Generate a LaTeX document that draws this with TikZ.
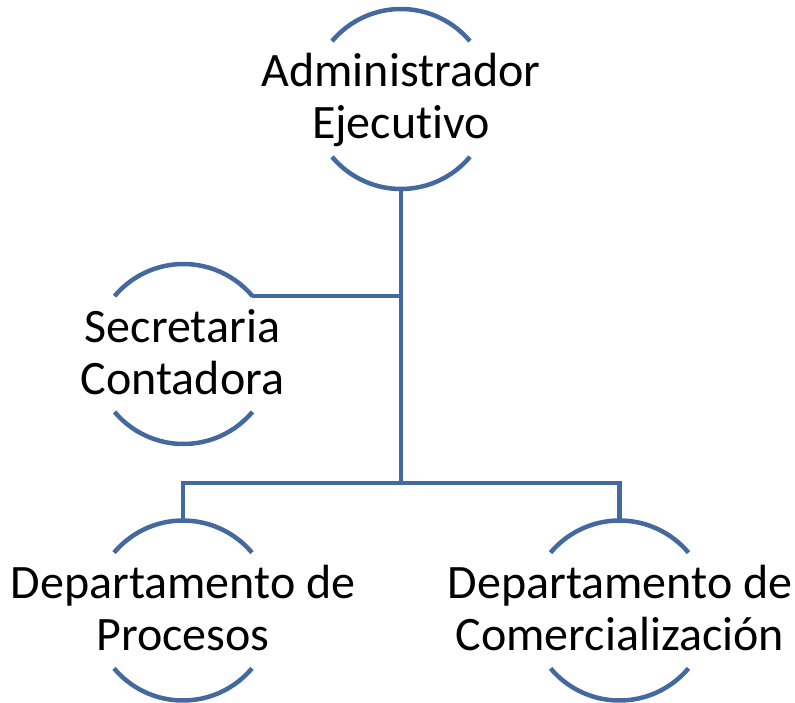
\documentclass[tikz,border=0pt]{standalone}
\usepackage{fontspec}
\setmainfont[Ligatures={NoCommon,NoRequired,NoContextual}]{Carlito}
\usetikzlibrary{calc}
\definecolor{linec}{RGB}{68,105,158}
\begin{document}
\begin{tikzpicture}[x=1pt,y=-1pt,
  conn/.style={draw=linec,line width=4.5pt},
  ring/.style={draw=linec,line width=4.5pt},
  lbl/.style={align=center,font=\fontsize{48}{52}\selectfont,inner sep=0pt,anchor=base}]
\useasboundingbox (0,0) rectangle (795,702);
% circle centres
\coordinate (cA) at (401,99);
\coordinate (cS) at (183.5,354);
\coordinate (cP) at (183,610.5);
\coordinate (cC) at (619.5,610.5);
% labels (base anchor = baseline of last line)
\node[lbl] (A) at (401,138) {Administrador\\Ejecutivo};
\node[lbl] (S) at (182.5,394) {Secretaria\\Contadora};
\node[lbl] (P) at (183,650) {Departamento de\\Procesos};
\node[lbl] (C) at (620,650) {Departamento de\\Comercialización};
% arcs (y axis points down, so negative angles are above the centre)
\foreach \c in {cA,cS,cP,cC}{
  \draw[ring] (\c) ++(-40:90) arc[start angle=-40,end angle=-140,radius=90];
  \draw[ring] (\c) ++(40:90) arc[start angle=40,end angle=140,radius=90];
}
% connector points
\coordinate (aB) at ($(cA)+(0,89)$);
\coordinate (sR) at ($(cS)+(-40:90)$);
\coordinate (pT) at ($(cP)+(0,-90)$);
\coordinate (cT) at ($(cC)+(0,-90)$);
\coordinate (j2) at (401,483);
\coordinate (pJ) at (183,483);
\coordinate (cJ) at (619.5,483);
\draw[conn] (aB) -- (j2);
\draw[conn] (sR) -- (sR -| aB);
\draw[conn] (pT) -- (pJ) -- (cJ) -- (cT);
\end{tikzpicture}
\end{document}
